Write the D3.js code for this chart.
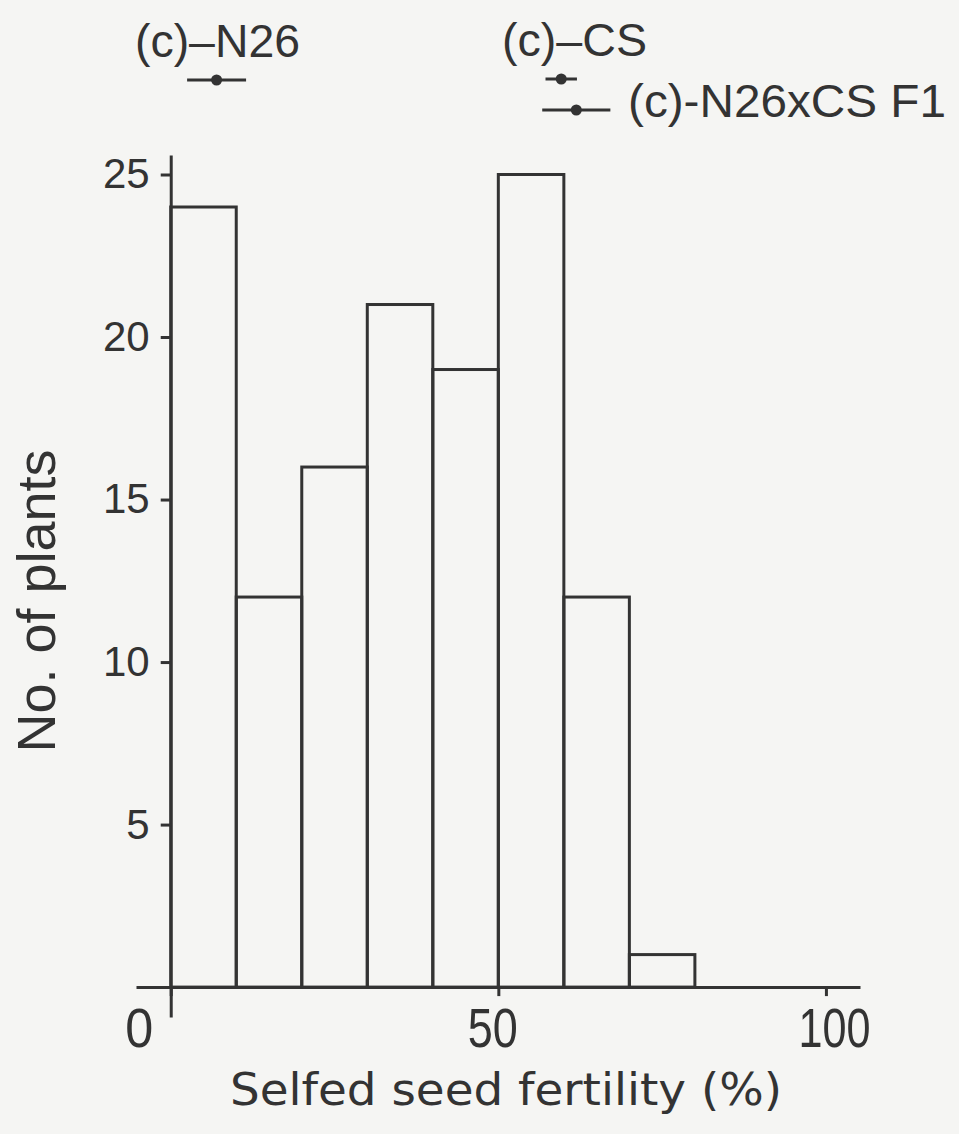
<!DOCTYPE html>
<html>
<head>
<meta charset="utf-8">
<script src="https://cdn.jsdelivr.net/npm/d3@7"></script>
<style>
  html, body { margin: 0; padding: 0; background: #f5f5f3; }
  svg { display: block; }
  text { fill: #333; }
</style>
</head>
<body>
<script>
// histogram: selfed seed fertility classes (%) and number of plants
var binEdges = [0, 10, 20, 30, 40, 50, 60, 70, 80];
var plantCounts = [24, 12, 16, 21, 19, 25, 12, 1];

// tick labels
var yTicks = [5, 10, 15, 20, 25];
var xTicks = [0, 50, 100];

// parent / F1 means with their ranges (mean +- sd)
var lineNames = ["(c)\u2013N26", "(c)\u2013CS", "(c)-N26xCS F1"];
var lineMeans = [7.0, 59.6, 61.9];
var lineSD = [4.5, 2.4, 5.2];

var W = 959, H = 1134;
var ink = "#333";

var svg = d3.select("body").append("svg")
  .attr("width", W)
  .attr("height", H);

// scales (domains run a bit past 0 so the axes cross like in the print)
var x = d3.scaleLinear().domain([-5.3, 105.2]).range([136, 860]);
var y = d3.scaleLinear().domain([-0.92, 25.6]).range([1017, 155]);

// === BARS ===
var bins = plantCounts.map(function(c, i) {
  return { x0: binEdges[i], x1: binEdges[i + 1], n: c };
});

svg.append("g").selectAll("rect")
  .data(bins)
  .enter()
  .append("rect")
  .attr("x", function(d) { return x(d.x0); })
  .attr("y", function(d) { return y(d.n); })
  .attr("width", function(d) { return x(d.x1) - x(d.x0); })
  .attr("height", function(d) { return y(0) - y(d.n); })
  .style("fill", "none")
  .style("stroke", ink)
  .style("stroke-width", 3);

// === Y AXIS ===
var yAxis = svg.append("g")
  .attr("transform", "translate(" + x(0) + ",0)")
  .call(d3.axisLeft(y).tickValues(yTicks).tickSize(10).tickSizeOuter(0).tickPadding(11));

yAxis.selectAll("text")
  .style("font-family", "'Liberation Sans', Arial, sans-serif")
  .style("font-size", "42px")
  .style("fill", ink);

// === X AXIS ===
var labelShift = { 0: -32, 50: -6, 100: 8 };
var labelWidth = { 0: 28, 50: 50, 100: 72 };

var xAxis = svg.append("g")
  .attr("transform", "translate(0," + y(0) + ")")
  .call(d3.axisBottom(x).tickValues(xTicks).tickSize(9).tickSizeOuter(0).tickPadding(11));

xAxis.selectAll("text")
  .attr("dx", function(d) { return labelShift[d]; })
  .attr("textLength", function(d) { return labelWidth[d]; })
  .attr("lengthAdjust", "spacingAndGlyphs")
  .style("font-family", "'Liberation Sans', Arial, sans-serif")
  .style("font-size", "56px")
  .style("fill", ink);

svg.selectAll(".domain, .tick line")
  .style("stroke", ink)
  .style("stroke-width", 3);

// axis titles
svg.append("text")
  .attr("x", 506)
  .attr("y", 1105)
  .attr("text-anchor", "middle")
  .attr("textLength", 552)
  .attr("lengthAdjust", "spacingAndGlyphs")
  .style("font-family", "'DejaVu Sans', sans-serif")
  .style("font-size", "45px")
  .text("Selfed seed fertility (%)");

svg.append("text")
  .attr("transform", "translate(55,601) rotate(-90)")
  .attr("text-anchor", "middle")
  .style("font-family", "'Liberation Sans', Arial, sans-serif")
  .style("font-size", "54px")
  .text("No. of plants");

// === MEANS OF PARENTS AND F1 ===
var marks = lineNames.map(function(name, i) {
  return { name: name, m: lineMeans[i], sd: lineSD[i] };
});
var markY = [80, 79, 110];
var labelPos = [[135, 57], [502, 56], [628, 117]];
var labelLen = [165, 145, 318];

var mg = svg.append("g").selectAll("g")
  .data(marks)
  .enter()
  .append("g");

mg.append("line")
  .attr("x1", function(d) { return x(d.m - d.sd); })
  .attr("x2", function(d) { return x(d.m + d.sd); })
  .attr("y1", function(d, i) { return markY[i]; })
  .attr("y2", function(d, i) { return markY[i]; })
  .style("stroke", ink)
  .style("stroke-width", 3);

mg.append("circle")
  .attr("cx", function(d) { return x(d.m); })
  .attr("cy", function(d, i) { return markY[i]; })
  .attr("r", 5.5)
  .style("fill", ink);

mg.append("text")
  .attr("x", function(d, i) { return labelPos[i][0]; })
  .attr("y", function(d, i) { return labelPos[i][1]; })
  .attr("textLength", function(d, i) { return labelLen[i]; })
  .attr("lengthAdjust", "spacingAndGlyphs")
  .style("font-family", "'Liberation Sans', Arial, sans-serif")
  .style("font-size", "46px")
  .text(function(d) { return d.name; });
</script>
</body>
</html>
